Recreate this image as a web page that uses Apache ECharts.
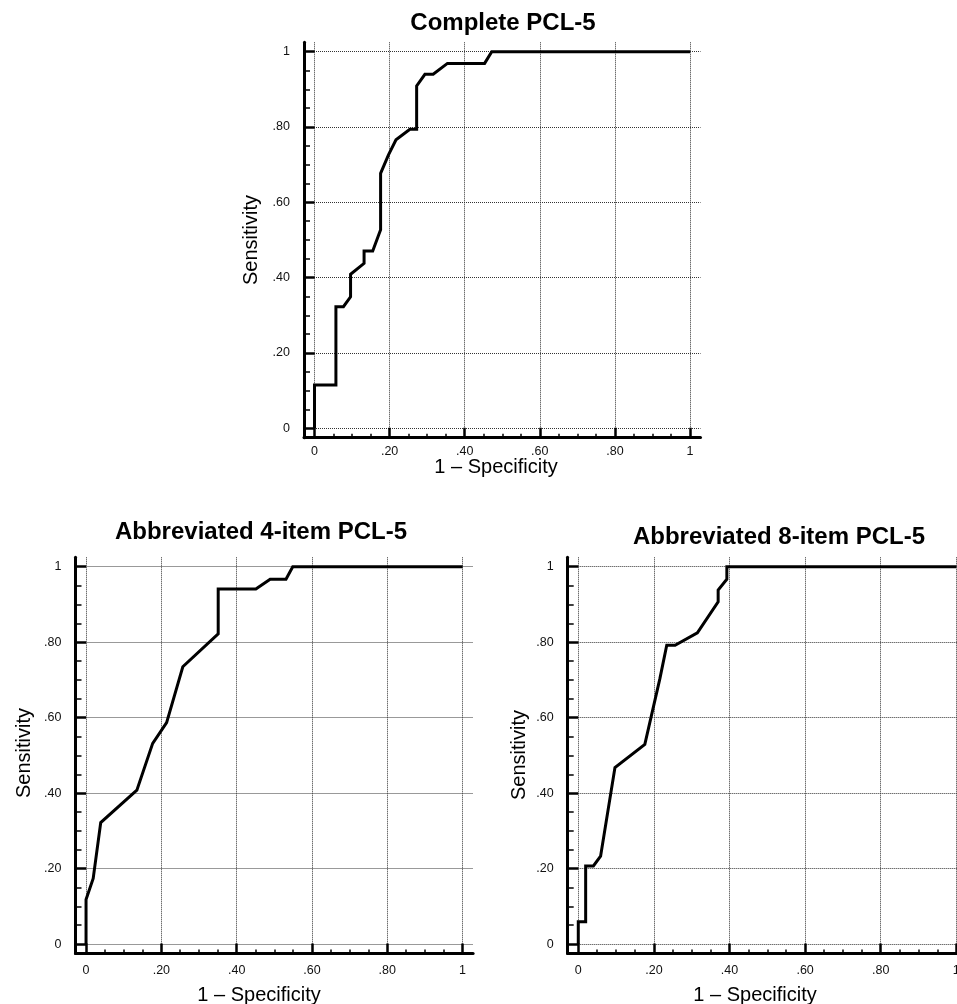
<!DOCTYPE html>
<html>
<head>
<meta charset="utf-8">
<script src="https://cdn.jsdelivr.net/npm/echarts@6/dist/echarts.min.js"></script>
<style>
  html, body { margin: 0; padding: 0; background: #fff; }
  #chart { width: 957px; height: 1004px; }
</style>
</head>
<body>
<div id="chart"></div>
<script>
// ---- Data ----
const chartTitles = ['Complete PCL-5', 'Abbreviated 4-item PCL-5', 'Abbreviated 8-item PCL-5'];
const xName = '1 \u2013 Specificity';
const yName = 'Sensitivity';
const majorTicks = [0, 0.2, 0.4, 0.6, 0.8, 1];
const tickLabels = ['0', '.20', '.40', '.60', '.80', '1'];
const minorTicks = [0.05, 0.1, 0.15, 0.25, 0.3, 0.35, 0.45, 0.5, 0.55, 0.65, 0.7, 0.75, 0.85, 0.9, 0.95];

const completeFpr = [0, 0, 0.057, 0.057, 0.077, 0.096, 0.096, 0.132, 0.132, 0.155, 0.176, 0.176, 0.197, 0.217, 0.254, 0.272, 0.272, 0.294, 0.316, 0.354, 0.453, 0.472, 1];
const completeTpr = [0, 0.115, 0.115, 0.323, 0.323, 0.349, 0.409, 0.438, 0.471, 0.471, 0.527, 0.677, 0.726, 0.766, 0.794, 0.794, 0.909, 0.940, 0.940, 0.969, 0.969, 1, 1];

const item4Fpr = [0, 0, 0.019, 0.039, 0.135, 0.177, 0.214, 0.257, 0.351, 0.351, 0.451, 0.489, 0.531, 0.549, 1];
const item4Tpr = [0, 0.118, 0.174, 0.322, 0.408, 0.532, 0.587, 0.735, 0.822, 0.941, 0.941, 0.967, 0.967, 1, 1];

const item8Fpr = [0, 0, 0.0195, 0.0195, 0.040, 0.059, 0.097, 0.176, 0.216, 0.234, 0.256, 0.315, 0.370, 0.370, 0.393, 0.393, 1];
const item8Tpr = [0, 0.059, 0.059, 0.207, 0.207, 0.233, 0.468, 0.529, 0.704, 0.792, 0.792, 0.825, 0.907, 0.938, 0.967, 1, 1];

// ---- Layout ----
const FONT = '"Liberation Sans", Arial, Helvetica, sans-serif';
const panels = [
  { grid: { left: 304, top: 42.3, width: 396.5, height: 395.4 }, fpr: completeFpr, tpr: completeTpr,
    title: [503, 23], xn: [496, 467], yn: [251, 240], xLabelMargin: 7 },
  { grid: { left: 75.5, top: 557.3, width: 397.6, height: 396.2 }, fpr: item4Fpr, tpr: item4Tpr,
    title: [261, 532], xn: [259, 995], yn: [24, 753], xLabelMargin: 11 },
  { grid: { left: 567.7, top: 557.3, width: 399.2, height: 396.2 }, fpr: item8Fpr, tpr: item8Tpr,
    title: [779, 537], xn: [755, 995], yn: [519, 755], xLabelMargin: 11 }
];

const fmt = v => {
  const i = majorTicks.findIndex(t => Math.abs(t - v) < 1e-6);
  return i >= 0 ? tickLabels[i] : '';
};

const grids = [], xAxes = [], yAxes = [], series = [], graphics = [];
panels.forEach((p, k) => {
  grids.push(Object.assign({ containLabel: false, outerBoundsMode: 'none' }, p.grid));
  // major x axis
  xAxes.push({
    type: 'value', gridIndex: k, position: 'bottom', min: -0.028, max: 1.028,
    axisLine: { show: true, onZero: false, lineStyle: { color: '#000', width: 3 } },
    axisTick: { show: true, inside: true, length: 10, customValues: majorTicks, lineStyle: { color: '#000', width: 2.5 } },
    axisLabel: { show: true, customValues: majorTicks, formatter: fmt, margin: p.xLabelMargin,
      color: '#111', fontSize: 12.5, fontFamily: FONT },
    splitLine: { show: true, lineStyle: { color: '#333', width: 1, type: 'dotted' } },
    z: 3
  });
  // minor x axis
  xAxes.push({
    type: 'value', gridIndex: k, position: 'bottom', min: -0.028, max: 1.028,
    axisLine: { show: false, onZero: false },
    axisTick: { show: true, inside: true, length: 4, customValues: minorTicks, lineStyle: { color: '#000', width: 1.5 } },
    axisLabel: { show: false },
    splitLine: { show: false }
  });
  // major y axis
  yAxes.push({
    type: 'value', gridIndex: k, position: 'left', min: -0.025, max: 1.025,
    axisLine: { show: true, onZero: false, lineStyle: { color: '#000', width: 3 } },
    axisTick: { show: true, inside: true, length: 10.5, customValues: majorTicks, lineStyle: { color: '#000', width: 2.5 } },
    axisLabel: { show: true, customValues: majorTicks, formatter: fmt, margin: 14,
      color: '#111', fontSize: 12.5, fontFamily: FONT },
    splitLine: { show: true, lineStyle: { color: '#333', width: 1, type: 'dotted' } },
    z: 3
  });
  // minor y axis
  yAxes.push({
    type: 'value', gridIndex: k, position: 'left', min: -0.025, max: 1.025,
    axisLine: { show: false, onZero: false },
    axisTick: { show: true, inside: true, length: 6, customValues: minorTicks, lineStyle: { color: '#000', width: 1.5 } },
    axisLabel: { show: false },
    splitLine: { show: false }
  });
  series.push({
    type: 'line', xAxisIndex: 2 * k, yAxisIndex: 2 * k,
    data: p.fpr.map((x, i) => [x, p.tpr[i]]),
    showSymbol: false, symbol: 'none', smooth: false, animation: false,
    lineStyle: { color: '#000', width: 3, join: 'miter' },
    z: 5
  });
  graphics.push({
    type: 'text', x: p.title[0], y: p.title[1],
    style: { text: chartTitles[k], fontSize: 24, fontWeight: 'bold', fontFamily: FONT,
      fill: '#000', align: 'center', verticalAlign: 'middle' }
  });
  graphics.push({
    type: 'text', x: p.xn[0], y: p.xn[1],
    style: { text: xName, fontSize: 20, fontFamily: FONT,
      fill: '#000', align: 'center', verticalAlign: 'middle' }
  });
  graphics.push({
    type: 'text', x: p.yn[0], y: p.yn[1], rotation: Math.PI / 2,
    style: { text: yName, fontSize: 20, fontFamily: FONT,
      fill: '#000', align: 'center', verticalAlign: 'middle' }
  });
});

const chart = echarts.init(document.getElementById('chart'), null, { renderer: 'canvas' });
chart.setOption({
  backgroundColor: '#fff',
  animation: false,
  grid: grids,
  xAxis: xAxes,
  yAxis: yAxes,
  series: series,
  graphic: graphics
});
</script>
</body>
</html>
